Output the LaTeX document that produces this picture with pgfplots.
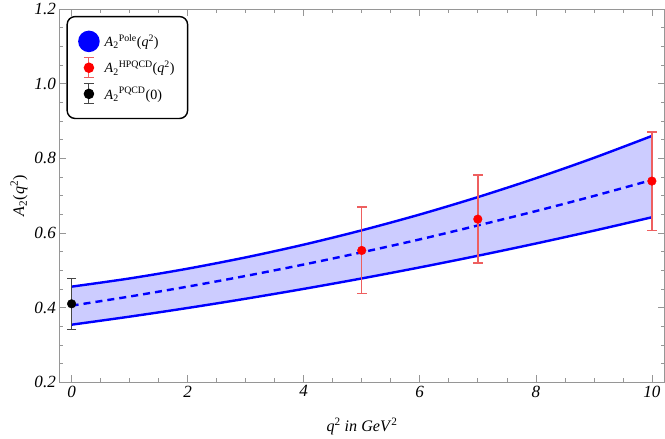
\documentclass[border=0pt]{standalone}
\usepackage{fontspec}
\setmainfont{Liberation Serif}
\usepackage{pgfplots}
\usepackage{pgfplotstable}
\pgfplotsset{compat=1.18}
\usepgfplotslibrary{fillbetween}

\definecolor{bandfill}{RGB}{204,204,255}
\definecolor{errred}{RGB}{238,95,95}
\definecolor{framegray}{RGB}{150,150,150}
\definecolor{errgray}{RGB}{70,70,70}

% pole fit band: q^2, upper, central, lower
\pgfplotstableread{
q   up     mid    low
0   0.456  0.405  0.354
1   0.4780 0.4295 0.3756
2   0.5042 0.4561 0.3988
3   0.5344 0.4847 0.4236
4   0.5686 0.5153 0.4500
5   0.6070 0.5480 0.4780
6   0.6494 0.5827 0.5076
7   0.6960 0.6200 0.5388
8   0.7466 0.6585 0.5716
9   0.8012 0.6991 0.6060
10  0.8600 0.7420 0.6420
}\poletable

% HPQCD points
\pgfplotstableread{
q   val
5   0.553
7   0.637
10  0.739
}\hpqcd

% PQCD point at q^2 = 0
\pgfplotstableread{
q   val
0   0.410
}\pqcd

\pgfplotsset{
    hpqcd bar/.style={errred, line width=1.5pt, mark=-, mark size=5pt,
        mark options={solid, line width=1.5pt}, forget plot},
}

\begin{document}
\begin{tikzpicture}
\begin{axis}[
    scale only axis,
    width=602pt, height=371pt,
    xmin=-0.21, xmax=10.22,
    ymin=0.2, ymax=1.2,
    xtick={0,2,4,6,8,10},
    ytick={0.2,0.4,0.6,0.8,1.0,1.2},
    minor x tick num=3,
    minor y tick num=3,
    tick align=inside,
    major tick length=7pt,
    minor tick length=4pt,
    axis line style={framegray, line width=0.7pt},
    every tick/.style={framegray, line width=0.6pt},
    /pgf/number format/assume math mode=true,
    tick label style={font=\fontsize{17}{20}\selectfont\itshape},
    yticklabel style={/pgf/number format/.cd, fixed, fixed zerofill, precision=1},
    xlabel={\textit{q}\textsuperscript{2} \textit{in GeV}\textsuperscript{2}},
    ylabel={\textit{A}\textsubscript{2}(\textit{q}\textsuperscript{2})},
    label style={font=\fontsize{16}{19}\selectfont},
    xlabel style={yshift=-14pt},
    legend cell align=left,
    legend style={at={(0.0116,0.982)}, anchor=north west,
        draw=black, line width=1.4pt, rounded corners=8pt,
        font=\fontsize{14}{17}\selectfont,
        inner xsep=11pt, inner ysep=14pt, row sep=5pt, column sep=3pt},
]
\addlegendimage{legend image code/.code={
    \fill[blue] (10pt,0) circle (10pt);}}
\addlegendentry{\textit{A}\textsubscript{2}\textsuperscript{Pole}(\textit{q}\textsuperscript{2})}
\addlegendimage{legend image code/.code={
    \draw[errred, line width=1pt] (10pt,-10pt) -- (10pt,10pt)
        (5pt,-10pt) -- (15pt,-10pt) (5pt,10pt) -- (15pt,10pt);
    \fill[red] (10pt,0) circle (4.5pt);}}
\addlegendentry{\textit{A}\textsubscript{2}\textsuperscript{HPQCD}(\textit{q}\textsuperscript{2})}
\addlegendimage{legend image code/.code={
    \draw[errgray, line width=1pt] (10pt,-10pt) -- (10pt,10pt)
        (5pt,-10pt) -- (15pt,-10pt) (5pt,10pt) -- (15pt,10pt);
    \fill[black] (10pt,0) circle (4.5pt);}}
\addlegendentry{\textit{A}\textsubscript{2}\textsuperscript{PQCD}(0)}

\addplot[name path=up, draw=none, forget plot] table[x=q, y=up] {\poletable};
\addplot[name path=low, draw=none, forget plot] table[x=q, y=low] {\poletable};
\addplot[bandfill, forget plot] fill between[of=up and low];
\addplot[blue, line width=2.4pt, smooth, forget plot] table[x=q, y=up] {\poletable};
\addplot[blue, line width=2.4pt, smooth, forget plot] table[x=q, y=low] {\poletable};
\addplot[blue, line width=2.4pt, smooth, dash pattern=on 7pt off 5pt, forget plot]
    table[x=q, y=mid] {\poletable};

% error bars: vertical segments with caps at both ends
\addplot[hpqcd bar] coordinates {(5,0.437) (5,0.669)};
\addplot[hpqcd bar] coordinates {(7,0.519) (7,0.755)};
\addplot[hpqcd bar] coordinates {(10,0.607) (10,0.871)};
\addplot[errgray, line width=1.2pt, mark=-, mark size=4.5pt,
    mark options={solid, line width=1.2pt}, forget plot]
    coordinates {(0,0.342) (0,0.478)};

\addplot[only marks, mark=*, mark size=4.3pt, red, forget plot]
    table[x=q, y=val] {\hpqcd};
\addplot[only marks, mark=*, mark size=4.3pt, black, forget plot]
    table[x=q, y=val] {\pqcd};
\end{axis}
\path ([xshift=-7pt]current bounding box.west);
\end{tikzpicture}
\end{document}
